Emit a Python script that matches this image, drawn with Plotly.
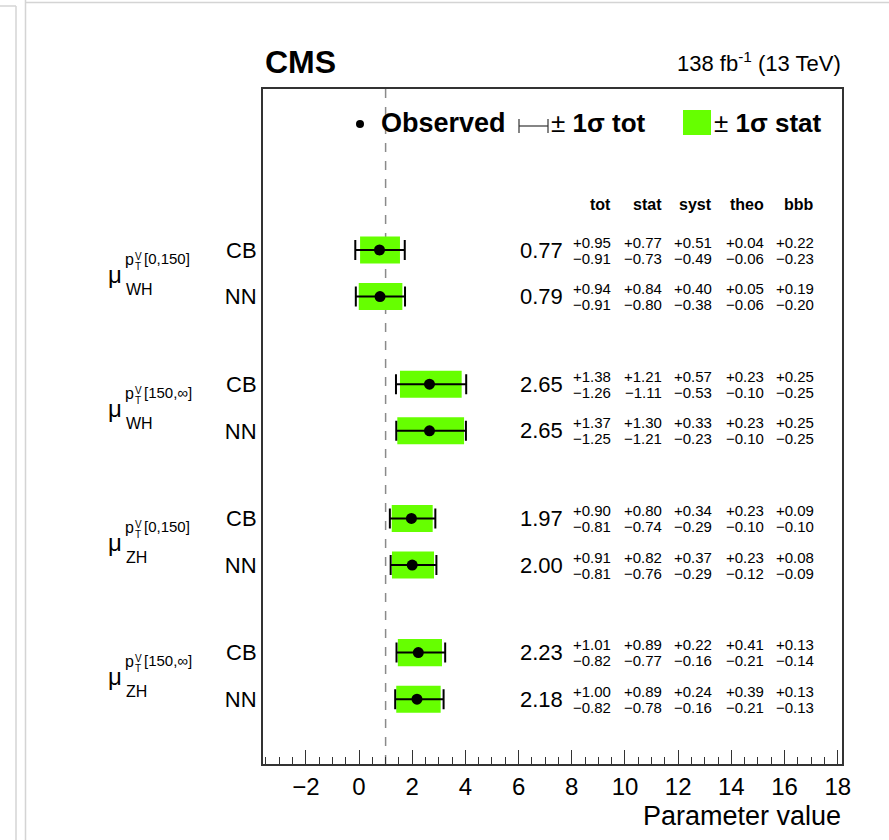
import plotly.graph_objects as go

# ---- data -------------------------------------------------------------
groups = ["WH", "WH", "ZH", "ZH"]
pt_bins = ["[0,150]", "[150,\u221e]", "[0,150]", "[150,\u221e]"]
methods = ["CB", "NN", "CB", "NN", "CB", "NN", "CB", "NN"]

obs = [0.77, 0.79, 2.65, 2.65, 1.97, 2.00, 2.23, 2.18]
tot_hi = [0.95, 0.94, 1.38, 1.37, 0.90, 0.91, 1.01, 1.00]
tot_lo = [0.91, 0.91, 1.26, 1.25, 0.81, 0.81, 0.82, 0.82]
stat_hi = [0.77, 0.84, 1.21, 1.30, 0.80, 0.82, 0.89, 0.89]
stat_lo = [0.73, 0.80, 1.11, 1.21, 0.74, 0.76, 0.77, 0.78]
syst_hi = [0.51, 0.40, 0.57, 0.33, 0.34, 0.37, 0.22, 0.24]
syst_lo = [0.49, 0.38, 0.53, 0.23, 0.29, 0.29, 0.16, 0.16]
theo_hi = [0.04, 0.05, 0.23, 0.23, 0.23, 0.23, 0.41, 0.39]
theo_lo = [0.06, 0.06, 0.10, 0.10, 0.10, 0.12, 0.21, 0.21]
bbb_hi = [0.22, 0.19, 0.25, 0.25, 0.09, 0.08, 0.13, 0.13]
bbb_lo = [0.23, 0.20, 0.25, 0.25, 0.10, 0.09, 0.14, 0.13]

col_names = ["tot", "stat", "syst", "theo", "bbb"]
col_hi = [tot_hi, stat_hi, syst_hi, theo_hi, bbb_hi]
col_lo = [tot_lo, stat_lo, syst_lo, theo_lo, bbb_lo]

# ---- layout geometry (pixels) ----------------------------------------
W, H = 889, 840
L, R, T, B = 263, 842, 89, 764
FONT = "Liberation Sans, Arial, Helvetica, sans-serif"
GREEN = "#66ff00"
GROUP_STEP = 2.88


def px(x):
    return (x - L) / (R - L)


def py(y):
    return (B - y) / (B - T)


# row positions: two rows per group, groups separated by a gap
pos = []
for g in range(len(groups)):
    pos += [g * GROUP_STEP, g * GROUP_STEP + 1]

fig = go.Figure()

# stat band
fig.add_trace(go.Bar(
    orientation="h",
    y=pos,
    x=[h + l for h, l in zip(stat_hi, stat_lo)],
    base=[o - l for o, l in zip(obs, stat_lo)],
    width=0.58,
    marker=dict(color=GREEN, line=dict(width=0)),
    showlegend=False,
    hoverinfo="skip",
))

# observed value with total uncertainty
fig.add_trace(go.Scatter(
    x=obs, y=pos, mode="markers",
    marker=dict(color="black", size=11),
    error_x=dict(type="data", symmetric=False, array=tot_hi, arrayminus=tot_lo,
                 color="black", thickness=2, width=10),
    showlegend=False,
))

shapes = []
# SM reference line
shapes.append(dict(type="line", xref="x", yref="paper", x0=1, x1=1, y0=0, y1=1,
                   line=dict(color="#8a8a8a", width=1.5, dash="dash"), layer="below"))

# legend icons
shapes.append(dict(type="circle", xref="paper", yref="paper",
                   x0=px(356), x1=px(364), y0=py(128), y1=py(120),
                   fillcolor="black", line=dict(width=0)))
shapes.append(dict(type="line", xref="paper", yref="paper",
                   x0=px(519), x1=px(548), y0=py(126), y1=py(126),
                   line=dict(color="#333", width=1.2)))
for xx in (519, 548):
    shapes.append(dict(type="line", xref="paper", yref="paper",
                       x0=px(xx), x1=px(xx), y0=py(119), y1=py(133),
                       line=dict(color="#333", width=1.2)))
shapes.append(dict(type="rect", xref="paper", yref="paper",
                   x0=px(683), x1=px(711), y0=py(135), y1=py(110),
                   fillcolor=GREEN, line=dict(width=0)))

# page edge lines
edge = "#d4d4d4"
shapes.append(dict(type="line", xref="paper", yref="paper", x0=px(25.5), x1=px(25.5),
                   y0=py(0), y1=py(H), line=dict(color=edge, width=1.5)))
shapes.append(dict(type="line", xref="paper", yref="paper", x0=px(16), x1=px(16),
                   y0=py(6), y1=py(H), line=dict(color=edge, width=1.5)))
shapes.append(dict(type="line", xref="paper", yref="paper", x0=px(25), x1=px(W),
                   y0=py(2.5), y1=py(2.5), line=dict(color=edge, width=1.5)))
shapes.append(dict(type="line", xref="paper", yref="paper", x0=px(0), x1=px(16),
                   y0=py(6), y1=py(6), line=dict(color=edge, width=1.5)))

ann = []


def text(x, y, s, size, anchor="left", bold=False, yref="paper", yshift=0, color="black"):
    ann.append(dict(x=x, y=y, xref="paper", yref=yref, text=(f"<b>{s}</b>" if bold else s),
                    showarrow=False, xanchor=anchor, yanchor="middle", yshift=yshift,
                    font=dict(family=FONT, size=size, color=color)))


# header texts
text(px(263), py(62), "CMS", 32, bold=True)
text(px(843), py(62), "138 fb<sup>-1</sup> (13 TeV)", 22, anchor="right")
text(px(843), py(816), "Parameter value", 27, anchor="right")

# legend texts
text(px(379), py(123), "Observed", 27, bold=True)
text(px(549), py(123), "\u00b1 <b>1\u03c3 tot</b>", 26)
text(px(712), py(123), "\u00b1 <b>1\u03c3 stat</b>", 26)

# uncertainty table
col_right = [613, 664, 714, 766, 816]
for name, xr in zip(col_names, col_right):
    text(px(xr), py(204), name, 16, anchor="right", bold=True)

for i, yv in enumerate(pos):
    text(px(565), yv, f"{obs[i]:.2f}", 22, anchor="right", yref="y", yshift=0)
    for hi, lo, xr in zip(col_hi, col_lo, col_right):
        text(px(xr), yv, f"+{hi[i]:.2f}", 15, anchor="right", yref="y", yshift=8)
        text(px(xr), yv, f"\u2212{lo[i]:.2f}", 15, anchor="right", yref="y", yshift=-8)

# parameter labels
for g, (proc, ptb) in enumerate(zip(groups, pt_bins)):
    ym = g * GROUP_STEP + 0.5
    text(px(106), ym, "\u03bc", 24, yref="y", yshift=-1)
    text(px(123), ym, "p", 16, yref="y", yshift=14)
    text(px(133), ym, "V", 10, yref="y", yshift=17)
    text(px(133), ym, "T", 10, yref="y", yshift=7)
    text(px(142), ym, ptb, 15, yref="y", yshift=15)
    text(px(124), ym, proc, 16, yref="y", yshift=-16)

fig.update_layout(
    width=W, height=H,
    margin=dict(l=L, r=W - R, t=T, b=H - B, pad=0),
    paper_bgcolor="white", plot_bgcolor="white",
    barmode="overlay",
    showlegend=False,
    shapes=shapes,
    annotations=ann,
    font=dict(family=FONT, color="black"),
    xaxis=dict(
        range=[-3.61, 18.16], showgrid=False, zeroline=False,
        tickmode="linear", tick0=0, dtick=2,
        ticks="inside", ticklen=14, tickwidth=1.3, tickcolor="#333",
        minor=dict(ticks="inside", ticklen=7, dtick=0.5, tick0=0,
                   tickwidth=1.3, tickcolor="#333", showgrid=False),
        showline=True, linecolor="#333", linewidth=2, mirror=True,
        tickfont=dict(family=FONT, size=24),
        tickformat="d",
    ),
    yaxis=dict(
        range=[(B - T) / 46.6 + (T - 250) / 46.6, (T - 250) / 46.6],
        showgrid=False, zeroline=False,
        tickvals=pos, ticktext=methods, ticks="",
        showline=True, linecolor="#333", linewidth=2, mirror=True,
        tickfont=dict(family=FONT, size=22),
    ),
)

fig.write_html("out.html")
